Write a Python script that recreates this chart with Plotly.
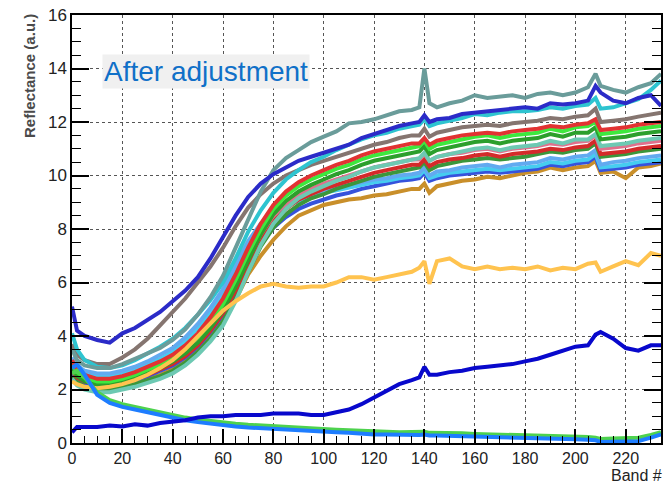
import plotly.graph_objects as go

# Band positions at which every spectrum is sampled
BANDS = [0, 2, 5, 10, 15, 20, 25, 30, 35, 40,
         45, 50, 55, 60, 65, 70, 75, 80, 85, 90,
         95, 100, 105, 110, 115, 120, 125, 130, 135,
         138, 140, 142,
         145, 150, 155, 160, 165, 170, 175, 180, 185, 190,
         195, 200, 205, 208, 210,
         215, 220, 225, 230, 234]

# Reflectance spectra (a.u.)
OCHRE = [2.5, 2.3, 2.15, 2.05, 2.05, 2.15, 2.25, 2.4, 2.55, 2.75,
         3.05, 3.45, 3.95, 4.55, 5.35, 6.3, 7.0, 7.6, 8.1, 8.5,
         8.7, 8.9, 9.0, 9.1, 9.15, 9.25, 9.3, 9.4, 9.5,
         9.5, 9.7, 9.35,
         9.6, 9.7, 9.8, 9.85, 9.95, 9.9, 10.0, 10.1, 10.15, 10.3,
         10.2, 10.3, 10.35, 10.55, 10.1,
         10.15, 9.9, 10.3, 10.35, 10.45]
MED_BLUE = [2.6, 2.4, 2.25, 2.15, 2.15, 2.25, 2.35, 2.5, 2.7, 2.9,
            3.2, 3.6, 4.15, 4.8, 5.65, 6.6, 7.45, 8.05, 8.45, 8.75,
            8.95, 9.1, 9.25, 9.35, 9.5, 9.6, 9.7, 9.8, 9.85,
            9.9, 10.1, 9.8,
            9.9, 10.0, 10.05, 10.1, 10.15, 10.1, 10.15, 10.2, 10.25, 10.4,
            10.35, 10.45, 10.5, 10.7, 10.2,
            10.25, 10.3, 10.4, 10.45, 10.5]
SKY = [3.0, 2.75, 2.55, 2.5, 2.5, 2.6, 2.75, 2.95, 3.15, 3.4,
       3.8, 4.3, 4.9, 5.6, 6.5, 7.4, 8.1, 8.55, 8.85, 9.05,
       9.2, 9.35, 9.45, 9.55, 9.65, 9.75, 9.8, 9.9, 9.95,
       10.0, 10.2, 9.9,
       10.0, 10.1, 10.15, 10.2, 10.25, 10.2, 10.25, 10.3, 10.35, 10.5,
       10.45, 10.55, 10.6, 10.8, 10.3,
       10.35, 10.4, 10.5, 10.55, 10.6]
LIGHT_BLUE = [3.2, 2.9, 2.7, 2.6, 2.6, 2.7, 2.85, 3.05, 3.3, 3.55,
              3.95, 4.45, 5.05, 5.75, 6.65, 7.55, 8.2, 8.65, 8.95, 9.15,
              9.3, 9.45, 9.55, 9.65, 9.75, 9.85, 9.9, 10.0, 10.05,
              10.1, 10.3, 10.0,
              10.15, 10.2, 10.3, 10.35, 10.4, 10.3, 10.4, 10.45, 10.5, 10.65,
              10.6, 10.7, 10.75, 10.95, 10.4,
              10.5, 10.55, 10.65, 10.7, 10.75]
DARK_GREEN = [2.5, 2.3, 2.1, 2.0, 2.0, 2.1, 2.2, 2.35, 2.5, 2.7,
              3.0, 3.4, 3.9, 4.55, 5.4, 6.4, 7.35, 8.05, 8.55, 8.9,
              9.15, 9.3, 9.5, 9.65, 9.8, 9.95, 10.05, 10.15, 10.25,
              10.3, 10.5, 10.2,
              10.35, 10.45, 10.55, 10.6, 10.65, 10.6, 10.65, 10.7, 10.8, 10.9,
              10.85, 10.95, 11.0, 11.2, 10.7,
              10.75, 10.8, 10.9, 10.95, 11.0]
RED_2 = [2.7, 2.45, 2.3, 2.2, 2.2, 2.3, 2.4, 2.55, 2.75, 2.95,
         3.25, 3.65, 4.2, 4.85, 5.7, 6.7, 7.6, 8.3, 8.75, 9.1,
         9.3, 9.5, 9.65, 9.8, 9.95, 10.1, 10.2, 10.3, 10.4,
         10.4, 10.6, 10.35,
         10.5, 10.6, 10.65, 10.75, 10.8, 10.7, 10.8, 10.85, 10.9, 11.0,
         10.95, 11.05, 11.1, 11.3, 10.8,
         10.85, 10.9, 11.0, 11.05, 11.1]
SALMON = [2.9, 2.6, 2.4, 2.3, 2.3, 2.4, 2.5, 2.7, 2.9, 3.1,
          3.45, 3.85, 4.4, 5.05, 5.9, 6.9, 7.8, 8.5, 8.95, 9.3,
          9.5, 9.7, 9.85, 10.0, 10.15, 10.3, 10.4, 10.5, 10.6,
          10.6, 10.8, 10.55,
          10.7, 10.8, 10.85, 10.95, 11.0, 10.9, 11.0, 11.05, 11.1, 11.2,
          11.15, 11.25, 11.3, 11.5, 11.0,
          11.05, 11.1, 11.2, 11.25, 11.3]
SEA_GREEN = [2.4, 2.15, 2.0, 1.9, 1.9, 2.0, 2.1, 2.25, 2.4, 2.6,
             2.9, 3.3, 3.8, 4.4, 5.3, 6.4, 7.4, 8.2, 8.75, 9.15,
             9.4, 9.6, 9.8, 9.95, 10.15, 10.3, 10.4, 10.5, 10.6,
             10.65, 10.85, 10.55,
             10.7, 10.8, 10.9, 11.0, 11.05, 10.95, 11.05, 11.1, 11.15, 11.3,
             11.2, 11.35, 11.35, 11.55, 11.1,
             11.15, 11.2, 11.3, 11.35, 11.4]
GREEN = [2.8, 2.5, 2.3, 2.2, 2.2, 2.3, 2.45, 2.6, 2.8, 3.05,
         3.35, 3.75, 4.3, 4.95, 5.85, 6.85, 7.8, 8.55, 9.05, 9.4,
         9.65, 9.85, 10.05, 10.2, 10.4, 10.55, 10.65, 10.75, 10.85,
         10.9, 11.1, 10.8,
         10.95, 11.05, 11.15, 11.25, 11.3, 11.2, 11.3, 11.35, 11.4, 11.55,
         11.45, 11.6, 11.6, 11.8, 11.35,
         11.4, 11.45, 11.55, 11.6, 11.65]
LIME = [2.95, 2.65, 2.45, 2.3, 2.3, 2.4, 2.55, 2.75, 2.95, 3.2,
        3.55, 3.95, 4.5, 5.2, 6.1, 7.1, 8.0, 8.75, 9.25, 9.6,
        9.85, 10.05, 10.25, 10.4, 10.6, 10.75, 10.85, 10.95, 11.05,
        11.1, 11.3, 11.0,
        11.15, 11.25, 11.35, 11.45, 11.5, 11.4, 11.5, 11.55, 11.6, 11.75,
        11.65, 11.8, 11.85, 12.0, 11.55,
        11.6, 11.65, 11.75, 11.8, 11.85]
RED = [3.1, 2.75, 2.55, 2.4, 2.4, 2.5, 2.65, 2.85, 3.05, 3.3,
       3.65, 4.1, 4.7, 5.4, 6.3, 7.3, 8.2, 8.9, 9.4, 9.75,
       10.0, 10.2, 10.4, 10.55, 10.75, 10.9, 11.0, 11.1, 11.2,
       11.2, 11.4, 11.15,
       11.3, 11.4, 11.5, 11.55, 11.6, 11.55, 11.65, 11.7, 11.75, 11.85,
       11.8, 11.9, 11.95, 12.1, 11.7,
       11.75, 11.8, 11.9, 11.95, 12.0]
GRAY_BROWN = [3.7, 3.3, 3.1, 2.95, 2.95, 3.2, 3.5, 3.9, 4.4, 4.9,
              5.4, 6.0, 6.6, 7.3, 8.1, 8.8, 9.3, 9.7, 10.0, 10.2,
              10.4, 10.55, 10.7, 10.85, 11.0, 11.15, 11.25, 11.4, 11.5,
              11.5, 11.75, 11.45,
              11.6, 11.7, 11.8, 11.85, 11.9, 11.85, 11.95, 12.0, 12.05, 12.15,
              12.1, 12.2, 12.25, 12.5, 12.0,
              12.05, 12.1, 12.2, 12.3, 12.35]
CYAN = [4.1, 3.5, 3.1, 2.85, 2.8, 2.9, 3.1, 3.35, 3.6, 3.9,
        4.3, 4.8, 5.35, 6.0, 6.9, 7.9, 8.7, 9.35, 9.85, 10.2,
        10.5, 10.7, 10.95, 11.15, 11.35, 11.5, 11.6, 11.75, 11.85,
        11.9, 12.1, 11.85,
        11.95, 12.05, 12.15, 12.3, 12.25, 12.35, 12.4, 12.4, 12.45, 12.55,
        12.5, 12.6, 12.65, 12.9, 12.5,
        12.55, 12.7, 12.85, 13.2, 13.55]
TEAL_GRAY = [3.5, 3.1, 2.9, 2.8, 2.8, 2.95, 3.15, 3.35, 3.55, 3.85,
             4.25, 4.8, 5.45, 6.25, 7.3, 8.4, 9.4, 10.2, 10.65, 10.95,
             11.25, 11.45, 11.65, 11.95, 12.0, 12.1, 12.25, 12.4, 12.45,
             12.55, 14.0, 12.7,
             12.55, 12.7, 12.8, 13.0, 12.9, 12.95, 13.0, 12.9, 13.05, 13.1,
             13.0, 13.1, 13.3, 13.8, 13.35,
             13.2, 13.1, 13.3, 13.45, 13.8]
VIOLET_BLUE = [5.1, 4.2, 4.0, 3.85, 3.75, 4.1, 4.3, 4.6, 4.9, 5.3,
               5.7, 6.2, 6.9, 7.7, 8.5, 9.2, 9.7, 10.05, 10.3, 10.55,
               10.7, 10.85, 11.0, 11.15, 11.4, 11.55, 11.7, 11.85, 11.95,
               12.0, 12.25, 12.0,
               12.1, 12.15, 12.3, 12.35, 12.4, 12.45, 12.5, 12.55, 12.5, 12.7,
               12.65, 12.7, 12.8, 13.35, 13.1,
               12.8, 12.7, 12.9, 13.0, 12.6]
ORANGE = [2.3, 2.2, 2.1, 2.05, 2.1, 2.2, 2.35, 2.55, 2.8, 3.1,
          3.5, 4.0, 4.5, 4.95, 5.3, 5.6, 5.85, 5.95, 5.85, 5.8,
          5.85, 5.85, 6.0, 6.2, 6.2, 6.1, 6.2, 6.3, 6.4,
          6.55, 6.8, 5.95,
          6.8, 6.9, 6.6, 6.5, 6.6, 6.5, 6.55, 6.5, 6.6, 6.45,
          6.55, 6.5, 6.7, 6.75, 6.4,
          6.6, 6.8, 6.65, 7.1, 7.0]
DECAY_GREEN = [2.6, 2.7, 2.45, 1.9, 1.6, 1.45, 1.35, 1.25, 1.15, 1.02,
               0.95, 0.88, 0.82, 0.78, 0.72, 0.68, 0.65, 0.62, 0.6, 0.57,
               0.55, 0.52, 0.5, 0.48, 0.45, 0.42, 0.42, 0.4, 0.4,
               0.4, 0.42, 0.38,
               0.38, 0.37, 0.36, 0.34, 0.33, 0.32, 0.3, 0.3, 0.28, 0.27,
               0.25, 0.24, 0.22, 0.2, 0.15,
               0.17, 0.2, 0.2, 0.3, 0.4]
DECAY_BLUE = [2.8, 2.95, 2.55, 1.8, 1.5, 1.35, 1.25, 1.15, 1.05, 0.92,
              0.85, 0.78, 0.72, 0.68, 0.62, 0.58, 0.55, 0.52, 0.5, 0.47,
              0.45, 0.42, 0.4, 0.38, 0.34, 0.32, 0.32, 0.3, 0.3,
              0.3, 0.32, 0.28,
              0.28, 0.27, 0.26, 0.24, 0.23, 0.22, 0.2, 0.2, 0.18, 0.17,
              0.15, 0.14, 0.12, 0.1, 0.04,
              0.05, 0.08, 0.07, 0.2, 0.32]
NAVY = [0.4, 0.6, 0.6, 0.6, 0.65, 0.62, 0.7, 0.65, 0.75, 0.8,
        0.85, 0.95, 1.0, 1.0, 1.05, 1.05, 1.05, 1.1, 1.1, 1.1,
        1.05, 1.05, 1.15, 1.25, 1.45, 1.7, 1.95, 2.2, 2.35,
        2.45, 2.85, 2.55,
        2.55, 2.65, 2.7, 2.8, 2.85, 2.9, 2.95, 3.05, 3.15, 3.3,
        3.45, 3.6, 3.65, 4.05, 4.15,
        3.9, 3.55, 3.45, 3.65, 3.65]

SERIES = [
    ("ochre", OCHRE, "#c98f2a"),
    ("medium blue", MED_BLUE, "#3652dc"),
    ("sky", SKY, "#46cdf0"),
    ("light blue", LIGHT_BLUE, "#62aaf0"),
    ("dark green", DARK_GREEN, "#3b963b"),
    ("red 2", RED_2, "#d42a2a"),
    ("salmon", SALMON, "#e0708c"),
    ("sea green", SEA_GREEN, "#6dc9b3"),
    ("green", GREEN, "#2c9f2c"),
    ("lime", LIME, "#3ee83e"),
    ("red", RED, "#e23232"),
    ("gray brown", GRAY_BROWN, "#857570"),
    ("cyan", CYAN, "#2ec4d0"),
    ("orange", ORANGE, "#ffc34f"),
    ("decay green", DECAY_GREEN, "#4ed24e"),
    ("decay blue", DECAY_BLUE, "#1e7dff"),
    ("navy", NAVY, "#0808cc"),
    ("teal gray", TEAL_GRAY, "#6a9c9a"),
    ("violet blue", VIOLET_BLUE, "#2b2bc8"),
]

fig = go.Figure()
for name, values, color in SERIES:
    assert len(values) == len(BANDS), name
    fig.add_trace(go.Scatter(
        x=BANDS, y=values, mode="lines", name=name,
        line=dict(color=color, width=4), hoverinfo="skip",
    ))

axis_common = dict(
    ticks="inside", tickcolor="black", tickwidth=1.5,
    showline=True, linecolor="black", linewidth=1.5,
    showgrid=True, gridcolor="#555555", gridwidth=1, griddash="dot",
    zeroline=False,
)

fig.update_layout(
    width=667, height=485,
    margin=dict(l=72, r=4, t=15, b=42),
    showlegend=False,
    plot_bgcolor="white", paper_bgcolor="white",
    font=dict(family="Liberation Sans, Arial, sans-serif"),
    xaxis=dict(
        range=[0, 234], tick0=0, dtick=20, ticklen=14, mirror=True,
        tickfont=dict(size=16, color="#222222"),
        minor=dict(dtick=5, ticklen=7, ticks="inside", tickcolor="black",
                   tickwidth=1.2, showgrid=False),
        **axis_common,
    ),
    yaxis=dict(
        range=[0, 16], tick0=0, dtick=2, ticklen=17, mirror="ticks",
        tickfont=dict(size=17, color="#222222"),
        minor=dict(dtick=0.5, ticklen=9, ticks="inside", tickcolor="black",
                   tickwidth=1.2, showgrid=False),
        **axis_common,
    ),
    annotations=[
        dict(text="After adjustment", xref="x", yref="y", x=11.9, y=13.9,
             xanchor="left", yanchor="middle", showarrow=False,
             font=dict(size=28, color="#1070c8"), bgcolor="#f0f0f0",
             borderpad=1),
        dict(text="Band #", xref="paper", yref="paper", x=1, y=0,
             xanchor="right", yanchor="bottom", xshift=2, yshift=-42,
             borderpad=0, showarrow=False,
             font=dict(size=16, color="#222222")),
        dict(text="<b>Reflectance (a.u.)</b>", xref="paper", yref="paper",
             x=-0.073, y=1, xanchor="center", yanchor="top", yshift=3,
             textangle=-90, showarrow=False,
             font=dict(size=15, color="#4a4a4a")),
    ],
)

fig.write_html("out.html")
